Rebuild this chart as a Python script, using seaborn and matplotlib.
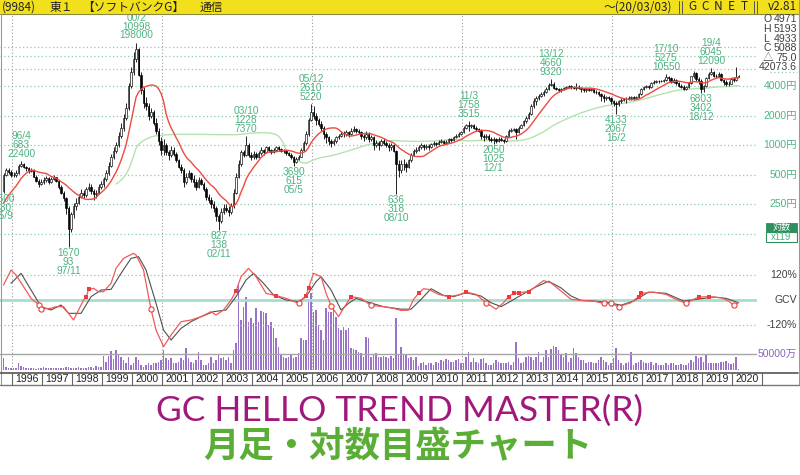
import numpy as np
import pandas as pd
import matplotlib
matplotlib.use("Agg")
import matplotlib.pyplot as plt
import matplotlib.transforms as mtransforms
from matplotlib.patches import Rectangle
import seaborn as sns

# ---------------- data (adjusted monthly prices, yen) ----------------
pre_close = [260, 270, 250, 240, 230, 220, 210, 200, 190, 200, 230, 250, 280, 340]  # 1994-07..1995-08 (off-screen, for MAs)

close_1995 = [500, 560, 540, 500]
high_1995 = [520, 590, 580, 560]
low_1995 = [330, 490, 510, 480]
close_1996 = [500, 520, 620, 650, 600, 580, 550, 560, 480, 430, 400, 420]
high_1996 = [540, 560, 640, 683, 660, 620, 600, 590, 570, 500, 450, 450]
low_1996 = [470, 480, 510, 600, 580, 550, 520, 530, 470, 420, 380, 390]
close_1997 = [440, 460, 420, 450, 470, 430, 380, 330, 290, 230, 140, 200]
high_1997 = [470, 490, 470, 470, 500, 480, 440, 390, 340, 300, 240, 210]
low_1997 = [400, 420, 400, 410, 440, 420, 360, 320, 270, 200, 93, 130]
close_1998 = [240, 260, 300, 330, 310, 360, 380, 340, 320, 330, 380, 400]
high_1998 = [260, 290, 320, 360, 350, 380, 410, 400, 360, 350, 400, 430]
low_1998 = [180, 220, 250, 290, 290, 300, 340, 320, 280, 290, 320, 360]
close_1999 = [450, 520, 620, 760, 880, 1000, 1250, 1500, 1900, 2400, 4000, 5600]
high_1999 = [480, 560, 680, 820, 950, 1080, 1350, 1700, 2100, 2700, 4300, 6200]
low_1999 = [380, 430, 500, 600, 720, 830, 950, 1180, 1400, 1800, 2300, 3800]
close_2000 = [7500, 9500, 5200, 3600, 2700, 2500, 2000, 2200, 1700, 1400, 1100, 900]
high_2000 = [8800, 10998, 9800, 5600, 3900, 3100, 2700, 2400, 2300, 1900, 1500, 1200]
low_2000 = [5200, 7000, 5000, 3300, 2400, 2300, 1800, 1900, 1600, 1300, 1000, 800]
close_2001 = [1000, 850, 800, 900, 820, 700, 600, 560, 420, 480, 520, 450]
high_2001 = [1150, 1050, 900, 980, 950, 850, 720, 650, 580, 520, 560, 540]
low_2001 = [800, 800, 700, 750, 780, 680, 580, 520, 380, 400, 460, 420]
close_2002 = [420, 380, 440, 400, 360, 300, 280, 250, 230, 190, 170, 210]
high_2002 = [500, 450, 470, 460, 420, 380, 320, 300, 270, 240, 200, 230]
low_2002 = [380, 350, 370, 390, 340, 280, 260, 230, 210, 170, 138, 160]
close_2003 = [230, 220, 210, 240, 330, 480, 650, 850, 800, 1000, 800, 760]
high_2003 = [250, 250, 240, 260, 360, 520, 700, 900, 900, 1228, 1050, 850]
low_2003 = [200, 210, 190, 200, 230, 320, 460, 620, 760, 780, 760, 700]
close_2004 = [820, 760, 830, 900, 850, 950, 900, 860, 900, 950, 920, 880]
high_2004 = [870, 850, 880, 960, 920, 980, 970, 920, 930, 990, 980, 930]
low_2004 = [720, 730, 740, 800, 800, 830, 860, 820, 840, 870, 880, 850]
close_2005 = [880, 830, 800, 760, 680, 720, 760, 900, 1050, 1300, 1800, 2200]
high_2005 = [920, 900, 860, 830, 770, 750, 800, 930, 1100, 1400, 1900, 2610]
low_2005 = [840, 800, 770, 720, 615, 660, 700, 750, 880, 1000, 1250, 1750]
close_2006 = [2000, 1800, 1650, 1500, 1300, 1200, 1100, 1050, 1100, 1200, 1250, 1300]
high_2006 = [2500, 2150, 1900, 1750, 1550, 1350, 1250, 1150, 1150, 1250, 1300, 1380]
low_2006 = [1850, 1600, 1550, 1400, 1150, 1050, 1000, 950, 1000, 1050, 1150, 1200]
close_2007 = [1300, 1350, 1300, 1400, 1450, 1400, 1350, 1250, 1200, 1300, 1150, 1200]
high_2007 = [1380, 1420, 1400, 1480, 1560, 1500, 1450, 1400, 1300, 1380, 1350, 1260]
low_2007 = [1220, 1250, 1200, 1270, 1350, 1330, 1300, 1150, 1100, 1150, 1080, 1100]
close_2008 = [1000, 1050, 1000, 1100, 1050, 1000, 950, 1000, 880, 640, 560, 650]
high_2008 = [1250, 1120, 1100, 1150, 1180, 1100, 1050, 1060, 1030, 900, 700, 700]
low_2008 = [900, 950, 900, 980, 1000, 950, 880, 900, 850, 318, 480, 520]
close_2009 = [640, 600, 700, 800, 880, 900, 950, 1000, 950, 980, 960, 1020]
high_2009 = [720, 680, 730, 840, 920, 950, 1000, 1050, 1030, 1030, 1020, 1060]
low_2009 = [560, 540, 580, 680, 780, 840, 870, 920, 900, 920, 900, 940]
close_2010 = [1050, 1020, 1080, 1100, 1050, 1080, 1150, 1120, 1200, 1250, 1300, 1350]
high_2010 = [1100, 1080, 1120, 1150, 1130, 1120, 1180, 1180, 1230, 1300, 1350, 1400]
low_2010 = [980, 980, 1000, 1050, 1000, 1020, 1050, 1080, 1100, 1180, 1200, 1260]
close_2011 = [1500, 1600, 1550, 1600, 1500, 1450, 1400, 1250, 1200, 1250, 1150, 1130]
high_2011 = [1550, 1650, 1758, 1650, 1650, 1550, 1500, 1450, 1300, 1300, 1300, 1200]
low_2011 = [1320, 1450, 1400, 1500, 1450, 1380, 1350, 1150, 1100, 1150, 1100, 1080]
close_2012 = [1150, 1100, 1150, 1130, 1100, 1250, 1400, 1420, 1450, 1350, 1500, 1600]
high_2012 = [1200, 1180, 1200, 1200, 1150, 1280, 1450, 1480, 1500, 1480, 1550, 1650]
low_2012 = [1025, 1060, 1080, 1100, 1050, 1080, 1230, 1350, 1380, 1150, 1330, 1480]
close_2013 = [1750, 1900, 2100, 2500, 2800, 3000, 3200, 3300, 3500, 3700, 4100, 4200]
high_2013 = [1800, 1980, 2200, 2600, 3050, 3150, 3300, 3450, 3650, 3900, 4300, 4660]
low_2013 = [1550, 1700, 1850, 2050, 2400, 2550, 2900, 3100, 3200, 3400, 3600, 4000]
close_2014 = [3800, 3700, 3600, 3700, 3850, 3900, 4000, 3900, 3850, 3900, 3850, 3700]
high_2014 = [4400, 3950, 3800, 3800, 3950, 4000, 4100, 4050, 3980, 4300, 4050, 3950]
low_2014 = [3700, 3600, 3450, 3500, 3650, 3750, 3800, 3750, 3700, 3650, 3700, 3500]
close_2015 = [3600, 3700, 3650, 3700, 3500, 3450, 3300, 3200, 3000, 3100, 3000, 2800]
high_2015 = [3800, 3800, 3800, 3800, 3750, 3600, 3550, 3400, 3300, 3200, 3200, 3100]
low_2015 = [3450, 3500, 3550, 3550, 3400, 3350, 3150, 2800, 2750, 2900, 2900, 2650]
close_2016 = [2700, 2600, 2800, 2900, 2950, 2950, 3000, 3100, 3050, 3100, 3300, 3700]
high_2016 = [2900, 2800, 2900, 3000, 3050, 3100, 3150, 3200, 3150, 3200, 3400, 3800]
low_2016 = [2500, 2067, 2500, 2700, 2800, 2700, 2850, 2900, 2900, 2950, 3000, 3250]
close_2017 = [3900, 4000, 3900, 4300, 4400, 4500, 4450, 4500, 4550, 4900, 4800, 4400]
high_2017 = [4000, 4100, 4100, 4400, 4550, 4650, 4600, 4600, 4700, 5275, 5100, 4900]
low_2017 = [3600, 3800, 3750, 3850, 4200, 4300, 4300, 4350, 4400, 4500, 4500, 4300]
close_2018 = [4600, 4300, 4000, 3900, 3700, 3900, 4300, 5000, 5400, 4700, 4500, 3700]
high_2018 = [4800, 4700, 4400, 4150, 4050, 4000, 4400, 5100, 5700, 5600, 4900, 4700]
low_2018 = [4300, 4100, 3900, 3800, 3600, 3600, 3800, 4200, 4800, 4500, 4200, 3402]
close_2019 = [4000, 4800, 5300, 5600, 5100, 5000, 5300, 4600, 4400, 4200, 4200, 4700]
high_2019 = [4100, 4900, 5500, 6045, 5700, 5300, 5500, 5400, 4700, 4600, 4500, 4800]
low_2019 = [3500, 3900, 4700, 5200, 4900, 4800, 4900, 4500, 4100, 4000, 4000, 4150]
close_2020 = [4600, 4971, 5088]
high_2020 = [4900, 6200, 5193]
low_2020 = [4400, 4500, 4933]

# monthly volume (万株)
vol_1995 = [37000, 10600, 7400, 5300]
vol_1996 = [6000, 5000, 21000, 12000, 8000, 6000, 5000, 6000, 5000, 4000, 5000, 6000]
vol_1997 = [8000, 6000, 6000, 5000, 5000, 6000, 5000, 5000, 6000, 8000, 10000, 7000]
vol_1998 = [5000, 6000, 8000, 7000, 5000, 7000, 9000, 8000, 6000, 12000, 10000, 8000]
vol_1999 = [44600, 25000, 44600, 60500, 35000, 63700, 47800, 40400, 31900, 21200, 40400, 15900]
vol_2000 = [21000, 40000, 32000, 16000, 10600, 16000, 21000, 16000, 21000, 21000, 26500, 32000]
vol_2001 = [63700, 37000, 32000, 37000, 21000, 23000, 26500, 37000, 32000, 69000, 37000, 26500]
vol_2002 = [21000, 32000, 56000, 32000, 16000, 16000, 21000, 42500, 21000, 32000, 51000, 37000]
vol_2003 = [42500, 32000, 42500, 21000, 63700, 85000, 276000, 159000, 202000, 234000, 154000, 165000]
vol_2004 = [151000, 196000, 154000, 188000, 186000, 180000, 143000, 154000, 133000, 101000, 74000, 48000]
vol_2005 = [42500, 37000, 42500, 48000, 37000, 42500, 53000, 101000, 96000, 96000, 218000, 244000]
vol_2006 = [186000, 191000, 143000, 127000, 96000, 196000, 186000, 186000, 196000, 170000, 133000, 127000]
vol_2007 = [138000, 127000, 133000, 69000, 67000, 63700, 58000, 53000, 42500, 104000, 101000, 42500]
vol_2008 = [48000, 53000, 42500, 42500, 44600, 42500, 37000, 44600, 37000, 165000, 48000, 74000]
vol_2009 = [48000, 48000, 37000, 40000, 32000, 42500, 12700, 21000, 26500, 16000, 21000, 21000]
vol_2010 = [16000, 26500, 21000, 32000, 30000, 34000, 32000, 24000, 26500, 32000, 34000, 21000]
vol_2011 = [21000, 42500, 58000, 26500, 37000, 26500, 21000, 34000, 37000, 21000, 16000, 16000]
vol_2012 = [21000, 32000, 26500, 21000, 23000, 23000, 26500, 16000, 26500, 90000, 37000, 23000]
vol_2013 = [24000, 42500, 44600, 42500, 32000, 42500, 58000, 26500, 40000, 63700, 42500, 67000]
vol_2014 = [77500, 72000, 63700, 51000, 42500, 53000, 26500, 37000, 69000, 53000, 42500, 32000]
vol_2015 = [32000, 23000, 26500, 26500, 21000, 23000, 32000, 42500, 32000, 26500, 16000, 21000]
vol_2016 = [37000, 69000, 32000, 21000, 16000, 23000, 26500, 58000, 16000, 21000, 26500, 32000]
vol_2017 = [26500, 21000, 21000, 26500, 16000, 21000, 16000, 16000, 16000, 21000, 16000, 21000]
vol_2018 = [21000, 16000, 16000, 19000, 16000, 16000, 21000, 32000, 26500, 44600, 37000, 40000]
vol_2019 = [26500, 48000, 21000, 21000, 23000, 23000, 23000, 26500, 25500, 28700, 23000, 19000]
vol_2020 = [21000, 40000, 3000]

# GCV oscillator (red fast line, black slow line), % values at knot months
osc_red_month = ["1995-09", "1995-12", "1996-02", "1996-05", "1996-08", "1996-11", "1996-12", "1997-04", "1997-06",
                 "1997-09", "1998-01", "1998-05", "1998-06", "1998-07", "1998-09", "1998-11", "1999-01", "1999-04",
                 "1999-06", "1999-09", "2000-01", "2000-02", "2000-05", "2000-07", "2000-08", "2000-10", "2001-01",
                 "2001-04", "2001-08", "2001-12", "2002-04", "2002-08", "2002-10", "2003-01", "2003-04", "2003-06",
                 "2003-08", "2003-11", "2004-02", "2004-06", "2004-10", "2005-02", "2005-07", "2005-10", "2005-11",
                 "2006-01", "2006-04", "2006-06", "2006-08", "2006-11", "2007-01", "2007-04", "2007-08", "2007-12",
                 "2008-05", "2008-09", "2008-12", "2009-03", "2009-05", "2009-07", "2009-09", "2009-11", "2010-03",
                 "2010-07", "2010-11", "2011-02", "2011-06", "2011-10", "2012-02", "2012-05", "2012-07", "2012-09",
                 "2012-11", "2013-03", "2013-06", "2013-09", "2013-12", "2014-04", "2014-08", "2014-12", "2015-05",
                 "2015-09", "2015-12", "2016-03", "2016-08", "2016-11", "2016-12", "2017-05", "2017-10", "2018-02",
                 "2018-06", "2018-09", "2018-11", "2019-03", "2019-08", "2019-11", "2020-01", "2020-03"]
osc_red_value = [72, 144, 120, 64, 8, -22, -42, -40, -32, -32, -96, 0, 13, 51, 56, 40, 40, 80, 152, 200, 224, 216, 144,
                 16, -45, -144, -224, -168, -104, -96, -80, -56, -72, -48, 0, 43, 112, 152, 112, 32, 21, 8, -16, 21, 59,
                 128, 112, 32, -27, -80, -40, 16, 8, -26, -32, -40, -50, -49, 3, 32, 54, 51, 27, 16, 24, 38, 27, -13,
                 -44, -13, 16, 32, 35, 40, 66, 93, 82, 43, 3, -2, -5, -16, -16, -32, -13, 16, 32, 38, 27, 3, -16, 3, 14,
                 16, 11, -5, -25, -13]
osc_black_month = ["1995-12", "1996-04", "1996-08", "1996-12", "1997-04", "1997-08", "1997-11", "1998-04", "1998-08",
                   "1998-12", "1999-04", "1999-08", "1999-12", "2000-03", "2000-06", "2000-10", "2001-01", "2001-04",
                   "2001-08", "2001-12", "2002-04", "2002-09", "2003-02", "2003-06", "2003-10", "2004-01", "2004-05",
                   "2004-09", "2005-02", "2005-07", "2005-10", "2006-02", "2006-04", "2006-08", "2006-12", "2007-03",
                   "2007-06", "2007-10", "2008-05", "2008-12", "2009-04", "2009-08", "2009-12", "2010-05", "2010-09",
                   "2011-02", "2011-08", "2011-12", "2012-04", "2012-08", "2013-01", "2013-06", "2013-11", "2014-04",
                   "2014-08", "2014-12", "2015-05", "2015-10", "2016-04", "2016-09", "2017-03", "2017-10", "2018-05",
                   "2018-12", "2019-05", "2019-10", "2020-03"]
osc_black_value = [80, 128, 48, -32, -48, -24, -64, -64, 16, 48, 51, 128, 200, 208, 144, -16, -144, -192, -136, -104,
                   -80, -56, -48, 16, 96, 128, 80, 24, 0, -8, 16, 88, 112, 48, -48, -16, 8, -8, -32, -44, -44, 3, 54,
                   22, 16, 35, 19, -13, -32, -5, 30, 63, 90, 58, 19, -2, -5, -10, -25, -5, 38, 32, -5, 6, 14, 8, -13]
buy_signal_month = ["1998-06", "1998-07", "2003-06", "2004-10", "2005-10", "2005-11", "2007-04", "2009-07", "2010-07",
                    "2011-02", "2012-07", "2012-09", "2012-11", "2013-03", "2016-11", "2016-12", "2018-11", "2019-03"]
sell_signal_month = ["1996-11", "1996-12", "2000-08", "2005-07", "2006-08", "2007-12", "2011-10", "2015-09",
                     "2015-12", "2016-03", "2018-06", "2020-01"]

# labelled extremes: (month, line1, line2, line3) top-to-bottom
high_labels = [("1996-04", "96/4", "683", "22400"), ("2000-02", "00/2", "10998", "198000"),
               ("2003-10", "03/10", "1228", "7370"), ("2005-12", "05/12", "2610", "5220"),
               ("2011-03", "11/3", "1758", "3515"), ("2013-12", "13/12", "4660", "9320"),
               ("2017-10", "17/10", "5275", "10550"), ("2019-04", "19/4", "6045", "12090")]
low_labels = [("1995-09", "9500", "330", "95/9"), ("1997-11", "1670", "93", "97/11"),
              ("2002-11", "827", "138", "02/11"), ("2005-05", "3690", "615", "05/5"),
              ("2008-10", "636", "318", "08/10"), ("2012-01", "2050", "1025", "12/1"),
              ("2016-02", "4133", "2067", "16/2"), ("2018-12", "6803", "3402", "18/12")]

years = list(range(1996, 2021))
price_grid = [125, 250, 500, 1000, 2000, 4000, 6000, 8000, 10000]
price_axis_labels = [4000, 2000, 1000, 500, 250]
ohlc_box = [("O", "4971"), ("H", "5193"), ("L", "4933"), ("C", "5088"), ("△", "75.0"), ("", "42073.6")]

# ---------------- assemble ----------------
yrs = list(range(1995, 2021))
close = sum([globals()[f"close_{y}"] for y in yrs], [])
high = sum([globals()[f"high_{y}"] for y in yrs], [])
low = sum([globals()[f"low_{y}"] for y in yrs], [])
vol = sum([globals()[f"vol_{y}"] for y in yrs], [])
start = pd.Period("1995-09", freq="M")
n = len(close)
idx = np.arange(n)
full_close = pd.Series(pre_close + close, dtype=float)
ma12 = full_close.rolling(12).mean().to_numpy()[len(pre_close):]
ma60 = full_close.rolling(60).mean().to_numpy()[len(pre_close):]
opens = np.array([pre_close[-1]] + close[:-1], dtype=float)
close_a = np.array(close, float)
df = pd.DataFrame({"i": idx, "open": opens, "high": high, "low": low, "close": close_a,
                   "vol": vol, "ma12": ma12, "ma60": ma60})


def mi(s):
    return (pd.Period(s, freq="M") - start).n


red = pd.DataFrame({"i": [mi(m) for m in osc_red_month], "v": osc_red_value})
blk = pd.DataFrame({"i": [mi(m) for m in osc_black_month], "v": osc_black_value})
red_lookup = dict(zip(red["i"], red["v"]))

# ---------------- figure ----------------
sns.set_theme(style="white")
NARROW = ["Liberation Sans", "DejaVu Sans", "Noto Sans CJK JP"]
JP = ["Noto Sans CJK JP", "DejaVu Sans"]
plt.rcParams["font.family"] = NARROW
W, H = 800, 475
fig = plt.figure(figsize=(8, 4.75), dpi=100)
fig.patch.set_facecolor("white")


def px_axes(x0, y0, x1, y1):
    return fig.add_axes([x0 / W, 1 - y1 / H, (x1 - x0) / W, (y1 - y0) / H])


GREEN_T = "#4db381"
GRID_G = "#86cfaa"
XMIN, XMAX = -1.42, 301.38

# price panel
axp = px_axes(0, 14, 757, 250)
axp.set_yscale("log")
axp.set_xlim(XMIN, XMAX)
axp.set_ylim(85.9, 21592)
axp.axis("off")
for g in price_grid:
    axp.axhline(g, color=GRID_G, lw=0.9, ls=(0, (1, 2)), zorder=0)
for k in range(5):
    axp.axvline(3.5 + 60 * k, color="#9a9a9a", lw=0.8, ls=(0, (1, 2)), zorder=0)
sns.lineplot(data=df, x="i", y="ma60", ax=axp, color="#b5e2b0", lw=1.0, legend=False, zorder=2)
sns.lineplot(data=df, x="i", y="ma12", ax=axp, color="#ee4a40", lw=1.0, legend=False, zorder=4)
axp.vlines(df["i"], df["low"], df["high"], color="black", lw=0.6, zorder=3)
up = df["close"] >= df["open"]
bot = np.minimum(df["open"], df["close"])
hgt = np.abs(df["close"] - df["open"])
axp.bar(df["i"][up], hgt[up], bottom=bot[up], width=0.75, color="white", edgecolor="black", lw=0.45, zorder=3)
axp.bar(df["i"][~up], hgt[~up], bottom=bot[~up], width=0.75, color="black", edgecolor="black", lw=0.45, zorder=3)
axp.set_xlabel("")
axp.set_ylabel("")

LS = 8.8
ANN_FS = 7.3


def put_label(month, texts, above):
    i = mi(month)
    p = df.loc[i, "high"] if above else df.loc[i, "low"]
    nl = len(texts)
    for k, s in enumerate(texts):
        dy = (7.5 + LS * (nl - 1 - k)) if above else -(6.3 + LS * k)
        tr = mtransforms.offset_copy(axp.transData, fig=fig, x=0, y=dy, units="dots")
        axp.text(i, p, s, transform=tr, ha="center", va="center", fontsize=ANN_FS, color=GREEN_T,
                 family=NARROW, zorder=6, clip_on=False)


for m, a, b, c in high_labels:
    put_label(m, [a, b, c], True)
for m, a, b, c in low_labels:
    put_label(m, [a, b, c], False)

# oscillator + volume panel
axv = px_axes(0, 250, 757, 370)
axv.set_xlim(XMIN, XMAX)
axv.set_ylim(0, 382166)
axv.axis("off")
axv.bar(df["i"], df["vol"], width=0.45, color="#9a72c9", lw=0, zorder=1)
axv.axhline(50000, color="#a6a6a6", lw=1.0, zorder=2)
for k in range(5):
    axv.axvline(3.5 + 60 * k, color="#9a9a9a", lw=0.8, ls=(0, (1, 2)), zorder=0)
axo = axv.twinx()
axo.set_xlim(XMIN, XMAX)
axo.set_ylim(-336, 240)
axo.axis("off")
axo.axhline(0, color="#a9ddcb", lw=2.0, zorder=1)
for v in (120, -120):
    axo.axhline(v, color=GRID_G, lw=0.9, ls=(0, (1, 2)), zorder=1)
sns.lineplot(data=blk, x="i", y="v", ax=axo, color="#505050", lw=0.8, legend=False, zorder=3)
sns.lineplot(data=red, x="i", y="v", ax=axo, color="#f05a5a", lw=0.9, legend=False, zorder=4)
bi = [mi(m) for m in buy_signal_month]
si = [mi(m) for m in sell_signal_month]
axo.scatter(bi, [red_lookup[i] for i in bi], marker="s", s=9, color="#ee3a3a", zorder=5, lw=0)
axo.scatter(si, [red_lookup[i] for i in si], marker="o", s=14, facecolor="white", edgecolor="#ee3a3a",
            lw=0.8, zorder=5)
axo.set_xlabel("")
axo.set_ylabel("")

# overlay in pixel coordinates
ov = px_axes(0, 0, 800, 475)
ov.set_xlim(0, 800)
ov.set_ylim(475, 0)
ov.axis("off")
ov.patch.set_alpha(0)
ov.set_zorder(10)

# header
ov.add_patch(Rectangle((0, 0), 800, 13.5, facecolor="#f3e01c", edgecolor="none"))
ov.plot([0, 800], [13.5, 13.5], color="#8a8a40", lw=0.8)
ov.text(2, 7, "(9984)", fontsize=8.5, family=JP, va="center", ha="left", color="#222")
ov.text(50, 7, "東１", fontsize=8.5, family=JP, va="center", ha="left", color="#222")
ov.text(82, 7, "【ソフトバンクG】", fontsize=8.5, family=JP, va="center", ha="left", color="#222")
ov.text(200, 7, "通信", fontsize=8.5, family=JP, va="center", ha="left", color="#222")
ov.text(672, 7, "～(20/03/03)", fontsize=8.5, family=JP, va="center", ha="right", color="#222")
for xx in (678.5, 681.5, 753.5, 756.5):
    ov.plot([xx, xx], [1, 13], color="#555", lw=0.7)
for k, ch in enumerate("GCNET"):
    ov.text(692 + 13 * k, 7, ch, fontsize=8.5, family=JP, va="center", ha="center", color="#222")
ov.text(797, 7, "v2.81", fontsize=8.5, family=JP, va="center", ha="right", color="#222")

# frame
ov.plot([0.5, 0.5], [13.5, 385], color="#9a9a9a", lw=0.8)
ov.plot([798.5, 798.5], [0, 385], color="#9a9a9a", lw=0.8)

# right-side OHLC box
for k, (a, b) in enumerate(ohlc_box):
    yy = 19.3 + 9.6 * k
    if a:
        ov.text(763, yy, a, fontsize=7.6, family=NARROW[:1] + JP, va="center", ha="left", color="#404040")
    ov.text(797, yy, b, fontsize=7.6, family=NARROW, va="center", ha="right", color="#404040")
ov.plot([770, 797], [71.7, 71.7], color=GRID_G, lw=0.9, ls=(0, (1, 2)))

# price axis labels
tp = mtransforms.blended_transform_factory(ov.transData, axp.transData)
for p in price_axis_labels:
    ov.text(797, p, f"{p}円", transform=tp, fontsize=7.5, family=NARROW[:1] + JP, va="center", ha="right",
            color=GREEN_T)
ov.add_patch(Rectangle((766, 222.5), 31, 9, facecolor="#2f8f5f", edgecolor="#2f8f5f", lw=0.6))
ov.text(781.5, 227, "対数", fontsize=6.5, family=JP, color="white", ha="center", va="center")
ov.add_patch(Rectangle((766, 231.5), 31, 10, facecolor="white", edgecolor="#2f8f5f", lw=0.8))
ov.text(781.5, 236.6, "x119", fontsize=7, family=NARROW, color=GREEN_T, ha="center", va="center")

# oscillator labels
to = mtransforms.blended_transform_factory(ov.transData, axo.transData)
ov.text(797, 120, "120%", transform=to, fontsize=7.5, va="center", ha="right", color="#404040")
ov.text(797, 0, "GCV", transform=to, fontsize=7.5, va="center", ha="right", color="#404040")
ov.text(797, -120, "-120%", transform=to, fontsize=7.5, va="center", ha="right", color="#404040")
tv = mtransforms.blended_transform_factory(ov.transData, axv.transData)
ov.text(797, 50000, "50000万", transform=tv, fontsize=7.5, family=NARROW[:1] + JP, va="center", ha="right",
        color="#8f62c4")

# year row
ov.plot([0, 798], [372.5, 372.5], color="#555", lw=1.2)
ov.plot([0, 800], [385, 385], color="#777", lw=1.0)
for k in range(len(years) + 1):
    xx = 12.3 + 30 * k
    ov.plot([xx, xx], [373, 385], color="#666", lw=0.8)
for k, y in enumerate(years):
    ov.text(27.3 + 30 * k, 379, str(y), fontsize=7.6, va="center", ha="center", color="#222")

# titles
ov.text(400, 411, "GC HELLO TREND MASTER(R)", fontsize=25.5, color="#a0187c", ha="center", va="center",
        family=["Lato", "DejaVu Sans"])
ov.text(398, 447, "月足・対数目盛チャート", fontsize=25.5, color="#5aae35", ha="center", va="center",
        family=JP, fontweight="bold")

fig.savefig("out.png", dpi=100)
